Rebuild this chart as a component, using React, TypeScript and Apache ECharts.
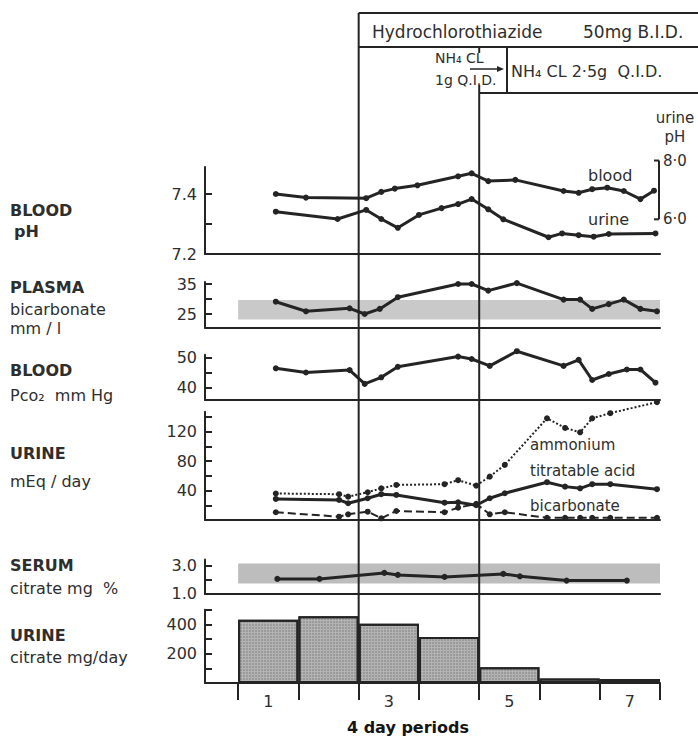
import React, { useEffect, useRef } from "react";
import * as echarts from "echarts";

// ---- data (x in days; 7 four-day periods = 28 days) ----
const bloodPhDays = [2.5, 4.5, 8.5, 9.5, 10.4, 11.9, 14.6, 15.5, 16.6, 18.4, 21.6, 22.6, 23.5, 24.5, 25.6, 26.7, 27.6];
const bloodPh = [7.4, 7.388, 7.386, 7.407, 7.418, 7.429, 7.459, 7.469, 7.443, 7.447, 7.41, 7.404, 7.416, 7.421, 7.41, 7.383, 7.411];

const urinePhDays = [2.5, 6.6, 8.5, 9.5, 10.6, 12.0, 13.5, 14.6, 15.5, 16.6, 17.6, 20.6, 21.5, 22.6, 23.6, 24.6, 27.7];
const urinePh = [6.26, 6.01, 6.32, 6.01, 5.71, 6.15, 6.38, 6.52, 6.69, 6.34, 6.0, 5.39, 5.52, 5.46, 5.41, 5.5, 5.52];

const plasmaDays = [2.5, 4.5, 7.4, 8.4, 9.4, 10.6, 14.6, 15.5, 16.6, 18.5, 21.6, 22.7, 23.5, 24.6, 25.6, 26.7, 27.8];
const plasmaBicarb = [29.1, 25.9, 26.9, 25.0, 26.7, 30.6, 35.0, 35.0, 32.8, 35.3, 29.8, 29.8, 26.7, 28.3, 29.8, 26.7, 25.9];
const plasmaNormal = [23.2, 29.7];

const pco2Days = [2.5, 4.5, 7.4, 8.4, 9.5, 10.6, 14.6, 15.5, 16.7, 18.5, 21.6, 22.6, 23.5, 24.6, 25.8, 26.7, 27.7];
const pco2 = [46.4, 45.0, 45.8, 41.2, 43.4, 46.9, 50.3, 49.5, 47.2, 52.1, 47.2, 49.2, 42.5, 44.5, 46.0, 46.0, 41.6];

const urineDays = [2.5, 6.7, 7.3, 8.6, 9.5, 10.5, 13.7, 14.6, 15.8, 16.7, 17.7, 20.5, 21.7, 22.7, 23.5, 24.7, 27.8];
const ammonium = [36, 35, 31.7, 37.7, 43, 47.6, 48.6, 54, 46.7, 58.9, 74.8, 138, 125, 119, 138, 145, 160];
const titratableAcid = [28.6, 27.2, 22.7, 29.5, 35, 34, 23.5, 24, 20, 29.5, 36.3, 51.3, 45.3, 43, 48.6, 48.6, 41.8];
const urineBicarb = [10.5, 4.5, 7.7, 11.3, 2.3, 12.2, 10.5, 16.7, 22, 7.7, 10.5, 3, 3, 3, 3, 3, 3];

const serumDays = [2.6, 5.4, 9.7, 10.6, 13.7, 17.6, 18.7, 21.8, 25.8];
const serumCitrate = [2.05, 2.05, 2.47, 2.33, 2.19, 2.4, 2.23, 1.93, 1.93];
const serumNormal = [1.72, 3.12];

const periodCenters = [2, 6, 10, 14, 18, 22, 26];
const urineCitrate = [432, 455, 405, 313, 108, 30, 28];

const periodBounds = [0, 4, 8, 12, 16, 20, 24, 28];
const periodLabelDays = [2, 10, 18, 26];
const periodLabels = ["1", "3", "5", "7"];

const FONT = "DejaVu Sans";
const INK = "#242424";
const TXT = "#2e2e2e";

const zip = (xs: number[], ys: number[]) => xs.map((x, i) => [x, ys[i]]);

export default function App() {
  const ref = useRef<HTMLDivElement>(null);
  useEffect(() => {
    const chart = echarts.init(ref.current!, null, { renderer: "svg" });
    const GL = 205;
    const GW = 455;
    const XMIN = -2.2;
    const XMAX = 28;
    const grids = [
      { top: 167, height: 87 },
      { top: 281.9, height: 45.6 },
      { top: 354.8, height: 45.3 },
      { top: 411.7, height: 108.3 },
      { top: 559.6, height: 34.3 },
      { top: 609.7, height: 73.3 },
    ].map((g) => ({ ...g, left: GL, width: GW, containLabel: false, outerBoundsMode: "none" }));

    const xAxes = grids.map((_, i) => ({
      type: "value",
      gridIndex: i,
      min: XMIN,
      max: XMAX,
      axisLine: { show: true, onZero: false, lineStyle: { color: INK, width: 2 } },
      splitLine: { show: false },
      axisTick:
        i === 5
          ? { show: true, customValues: periodBounds, length: 17, lineStyle: { color: INK, width: 2 } }
          : { show: false },
      axisLabel:
        i === 5
          ? {
              show: true,
              customValues: periodLabelDays,
              margin: 10,
              fontSize: 16,
              fontFamily: FONT,
              color: TXT,
              formatter: (v: number) => periodLabels[periodLabelDays.indexOf(v)] ?? "",
            }
          : { show: false },
    }));

    const yAx = (gridIndex: number, min: number, max: number, ticks: number[], labels: number[], dec: number) => ({
      type: "value",
      gridIndex,
      min,
      max,
      axisLine: { show: true, onZero: false, lineStyle: { color: INK, width: 2 } },
      splitLine: { show: false },
      axisTick: { show: true, inside: true, length: 7, customValues: ticks, lineStyle: { color: INK, width: 2 } },
      axisLabel: {
        show: true,
        customValues: labels,
        margin: 8,
        fontSize: 16,
        fontFamily: FONT,
        color: TXT,
        formatter: (v: number) => v.toFixed(dec),
      },
    });

    const yAxes = [
      yAx(0, 7.2, 7.49, [7.3, 7.4], [7.2, 7.4], 1),
      { type: "value", gridIndex: 0, min: 4.82, max: 7.78, show: false, position: "right" },
      yAx(1, 20.5, 35.7, [25, 30, 35], [25, 35], 0),
      yAx(2, 35.8, 50.9, [40, 45, 50], [40, 50], 0),
      yAx(3, 0, 147, [20, 40, 60, 80, 100, 120, 140], [40, 80, 120], 0),
      yAx(4, 1.0, 3.4, [2, 3], [1, 3], 1),
      yAx(5, 0, 500, [100, 200, 300, 400, 500], [200, 400], 0),
    ];

    const lineS = (name: string, xi: number, yi: number, data: number[][], type = "solid", width = 3) => ({
      name,
      type: "line",
      xAxisIndex: xi,
      yAxisIndex: yi,
      data,
      clip: false,
      symbol: "circle",
      symbolSize: 6,
      lineStyle: { color: INK, width, type },
      itemStyle: { color: INK },
      z: 5,
    });

    const dayPx = GW / (XMAX - XMIN);

    chart.setOption({
      animation: false,
      backgroundColor: "#ffffff",
      textStyle: { fontFamily: FONT },
      grid: grids,
      xAxis: xAxes,
      yAxis: yAxes,
      series: [
        lineS("blood pH", 0, 0, zip(bloodPhDays, bloodPh)),
        lineS("urine pH", 0, 1, zip(urinePhDays, urinePh)),
        {
          ...lineS("plasma bicarbonate", 1, 2, zip(plasmaDays, plasmaBicarb)),
          markArea: {
            silent: true,
            itemStyle: { color: "#c9c9c9" },
            data: [[{ xAxis: 0, yAxis: plasmaNormal[0] }, { xAxis: 28, yAxis: plasmaNormal[1] }]],
          },
        },
        lineS("blood Pco2", 2, 3, zip(pco2Days, pco2)),
        lineS("ammonium", 3, 4, zip(urineDays, ammonium), "dotted", 2),
        lineS("titratable acid", 3, 4, zip(urineDays, titratableAcid), "solid", 3),
        lineS("bicarbonate", 3, 4, zip(urineDays, urineBicarb), "dashed", 2),
        {
          ...lineS("serum citrate", 4, 5, zip(serumDays, serumCitrate)),
          markArea: {
            silent: true,
            itemStyle: { color: "#bdbdbd" },
            data: [[{ xAxis: 0, yAxis: serumNormal[0] }, { xAxis: 28, yAxis: serumNormal[1] }]],
          },
        },
        {
          name: "urine citrate",
          type: "bar",
          xAxisIndex: 5,
          yAxisIndex: 6,
          barWidth: dayPx * 4,
          data: zip(periodCenters, urineCitrate),
          itemStyle: {
            color: "#b3b3b3",
            borderColor: INK,
            borderWidth: 2,
            decal: { symbol: "circle", symbolSize: 0.7, color: "rgba(0,0,0,0.35)", dashArrayX: [2, 1], dashArrayY: [2, 1] },
          },
          z: 3,
        },
      ],
    });

    const xp = (d: number) => chart.convertToPixel({ xAxisIndex: 0 }, d) as number;
    const yUrine = (v: number) => chart.convertToPixel({ yAxisIndex: 1 }, v) as number;
    const yBase = chart.convertToPixel({ yAxisIndex: 6 }, 0) as number;
    const x8 = xp(8);
    const x16 = xp(16);
    const y8 = yUrine(8);
    const y6 = yUrine(6);

    const L = (x1: number, y1: number, x2: number, y2: number, w = 2) => ({
      type: "line",
      silent: true,
      z: 20,
      shape: { x1, y1, x2, y2 },
      style: { stroke: INK, lineWidth: w },
    });
    const T = (x: number, y: number, text: string, size = 16, weight: any = "normal", align = "left", fill = TXT) => ({
      type: "text",
      silent: true,
      z: 20,
      x,
      y,
      style: { text, fontSize: size, fontFamily: FONT, fontWeight: weight, fill, align, verticalAlign: "middle" },
    });

    chart.setOption({
      graphic: [
        // treatment header
        L(x8, 13, 700, 13),
        L(x8, 47, 700, 47),
        L(x8, 13, x8, yBase),
        L(507, 47, 507, 93),
        L(x16, 93, 700, 93),
        L(x16, 85, x16, yBase),
        L(x16, 47, x16, 53),
        L(470, 69, 500, 69, 1.5),
        { type: "polygon", silent: true, z: 20, shape: { points: [[504, 69], [497, 66], [497, 72]] }, style: { fill: INK } },
        T(372, 32, "Hydrochlorothiazide", 17),
        T(583, 32, "50mg B.I.D.", 17),
        T(435, 58, "NH₄ CL", 14),
        T(435, 80, "1g Q.I.D.", 14),
        T(511, 71, "NH₄ CL 2·5g  Q.I.D.", 16),
        // left panel titles
        T(10, 210, "BLOOD", 16, "bold"),
        T(14, 231, "pH", 16, "bold"),
        T(10, 287, "PLASMA", 16, "bold"),
        T(10, 309, "bicarbonate", 16),
        T(10, 328, "mm / l", 16),
        T(10, 370, "BLOOD", 16, "bold"),
        T(10, 395, "Pco₂  mm Hg", 16),
        T(10, 453, "URINE", 16, "bold"),
        T(10, 481, "mEq / day", 16),
        T(10, 565, "SERUM", 16, "bold"),
        T(10, 588, "citrate mg  %", 16),
        T(10, 635, "URINE", 16, "bold"),
        T(10, 657, "citrate mg/day", 16),
        // pH panel annotations
        T(675, 118, "urine", 15, "normal", "center"),
        T(675, 137, "pH", 15, "normal", "center"),
        L(659, y8, 659, y6),
        L(654, y8, 659, y8),
        L(654, y6, 659, y6),
        T(663, y8, "8·0", 15),
        T(663, y6, "6·0", 15),
        T(588, 175, "blood", 16),
        T(588, 219, "urine", 16),
        // urine panel annotations
        T(530, 445, "ammonium", 15),
        T(530, 471, "titratable acid", 15),
        T(530, 506, "bicarbonate", 15),
        // x title
        T(408, 727, "4 day periods", 16, "bold", "center", "#151515"),
      ],
    });

    return () => chart.dispose();
  }, []);
  return (
    <div
      ref={ref}
      style={{ position: "absolute", left: 0, top: 0, width: 698, height: 741, background: "#fff" }}
    />
  );
}
